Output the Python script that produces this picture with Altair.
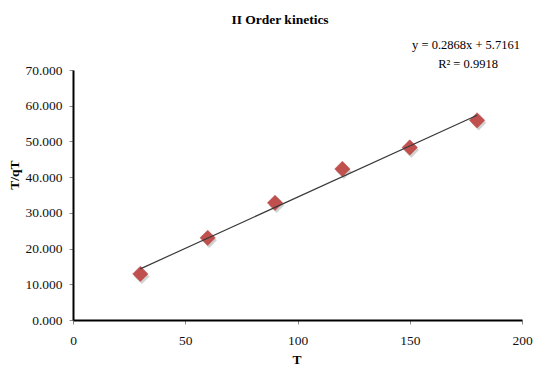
import altair as alt
import pandas as pd

# Measured values
t_values = [30, 60, 90, 120, 150, 180]
t_over_qt = [12.9, 23.0, 32.8, 42.3, 48.3, 55.9]

# Linear trendline parameters (as reported on the chart)
slope = 0.2868
intercept = 5.7161
r_squared = 0.9918

x_ticks = [0, 50, 100, 150, 200]
y_ticks = [0, 10, 20, 30, 40, 50, 60, 70]

FONT = "Liberation Serif"

points = pd.DataFrame({"T": t_values, "TqT": t_over_qt})
fit_x = [min(t_values), max(t_values)]
trend = pd.DataFrame({"T": fit_x, "TqT": [slope * x + intercept for x in fit_x]})

x_enc = alt.X(
    "T:Q",
    scale=alt.Scale(domain=[0, 200], nice=False),
    axis=alt.Axis(values=x_ticks, title=None, format="d"),
)
y_enc = alt.Y(
    "TqT:Q",
    scale=alt.Scale(domain=[0, 70], nice=False),
    axis=alt.Axis(values=y_ticks, title=None, format=".3f"),
)

shadow = alt.Chart(points).mark_point(
    shape="diamond", filled=True, size=235, color="#7a7a7a", opacity=0.35,
    xOffset=1.5, yOffset=2.5,
).encode(x=x_enc, y=y_enc)

markers = alt.Chart(points).mark_point(
    shape="diamond", filled=True, size=235, color="#C0504D", opacity=1,
    stroke="#B94643", strokeWidth=0.5,
).encode(x=x_enc, y=y_enc)

line = alt.Chart(trend).mark_line(color="#3a3a3a", strokeWidth=1.2).encode(
    x=x_enc, y=y_enc
)

labels = pd.DataFrame({"dummy": [0]})


def text_at(txt, x, y, size=13, bold=False, angle=0, align="center"):
    return alt.Chart(labels).mark_text(
        text=txt, font=FONT, fontSize=size, fontWeight="bold" if bold else "normal",
        angle=angle, align=align, baseline="middle", color="#000000",
    ).encode(x=alt.value(x), y=alt.value(y))


title = text_at("II Order kinetics", 207, -50, size=13.5, bold=True)
eq1 = text_at(f"y = {slope}x + {intercept}", 393, -25, size=12.5)
eq2 = text_at(f"R² = {r_squared}", 395, -6, size=12.5)
x_title = text_at("T", 224, 290, size=13.5, bold=True)
y_title = text_at("T/qT", -58, 105, size=13.5, bold=True, angle=270)

chart = alt.layer(
    shadow, markers, line, title, eq1, eq2, x_title, y_title
).properties(
    width=449,
    height=250,
    autosize=alt.AutoSizeParams(type="none"),
    padding={"left": 73, "top": 70, "right": 24, "bottom": 47},
    background="white",
).configure_view(
    stroke=None
).configure_axis(
    grid=False,
    domainColor="#000000",
    domainWidth=2,
    tickColor="#8c8c8c",
    tickSize=4,
    tickWidth=1,
    labelFont=FONT,
    labelFontSize=13.5,
    labelColor="#111111",
    labelFlush=False,
).configure_axisX(
    labelPadding=9,
).configure_axisY(
    labelPadding=7,
)

chart.save("out.html", embed_options={"renderer": "svg", "actions": False})
